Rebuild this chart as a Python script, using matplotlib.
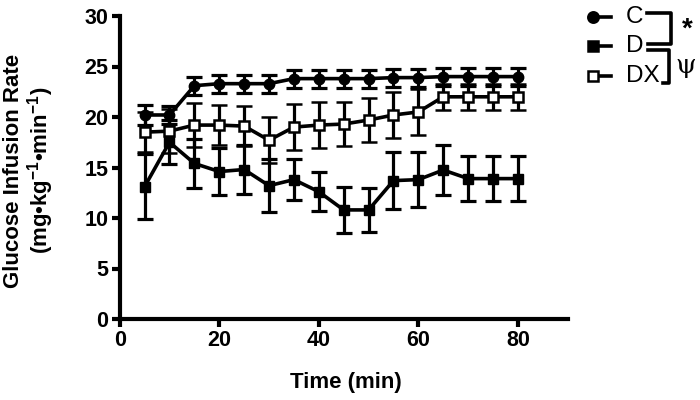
import numpy as np
import matplotlib.pyplot as plt
from matplotlib.lines import Line2D

plt.rcParams["font.family"] = ["Liberation Sans", "DejaVu Sans"]
plt.rcParams["mathtext.fontset"] = "custom"
plt.rcParams["mathtext.rm"] = "Liberation Sans:bold"
plt.rcParams["mathtext.it"] = "Liberation Sans:bold"
plt.rcParams["mathtext.bf"] = "Liberation Sans:bold"

# Glucose infusion rate during clamp, mean +/- SEM
time = [5, 10, 15, 20, 25, 30, 35, 40, 45, 50, 55, 60, 65, 70, 75, 80]
c_mean = [20.2, 20.2, 23.1, 23.3, 23.3, 23.3, 23.8, 23.8, 23.8, 23.8, 23.9, 23.9, 24.0, 24.0, 24.0, 24.0]
c_err = [1.0, 0.9, 0.9, 0.9, 0.9, 0.9, 0.9, 0.9, 0.9, 0.9, 0.9, 0.9, 0.9, 0.9, 0.9, 0.9]
d_mean = [13.1, 17.5, 15.4, 14.6, 14.8, 13.2, 13.8, 12.6, 10.8, 10.8, 13.7, 13.8, 14.75, 13.9, 13.9, 13.9]
d_err = [3.2, 2.2, 2.4, 2.3, 2.4, 2.6, 2.0, 1.95, 2.3, 2.2, 2.8, 2.7, 2.5, 2.2, 2.2, 2.2]
dx_mean = [18.5, 18.6, 19.2, 19.2, 19.1, 17.7, 19.0, 19.2, 19.3, 19.7, 20.2, 20.5, 22.0, 22.0, 22.0, 22.0]
dx_err = [2.0, 2.2, 2.2, 2.0, 2.0, 2.3, 2.3, 2.3, 2.2, 2.2, 2.3, 2.3, 1.3, 1.3, 1.3, 1.3]

fig = plt.figure(figsize=(7, 4), dpi=100)
ax = fig.add_axes([0.171, 0.2025, 0.64, 0.7575])

kw = dict(color="black", lw=2.6, elinewidth=2.3, capsize=5.5, capthick=2.3, ms=7.5)
ax.errorbar(time, d_mean, yerr=d_err, fmt="-s", mfc="black", zorder=3, **kw)
ax.errorbar(time, c_mean, yerr=c_err, fmt="-o", mfc="black", zorder=4, **kw)
ax.errorbar(time, dx_mean, yerr=dx_err, fmt="-s", mfc="white", mew=1.8, zorder=5, **kw)

ax.set_xlim(0, 90)
ax.set_ylim(0, 30)
ax.set_xticks([0, 20, 40, 60, 80])
ax.set_yticks([0, 5, 10, 15, 20, 25, 30])
for s in ["top", "right"]:
    ax.spines[s].set_visible(False)
for s in ["left", "bottom"]:
    ax.spines[s].set_linewidth(3)
ax.tick_params(width=3, length=6, labelsize=15.5, pad=2)
for lab in ax.get_xticklabels() + ax.get_yticklabels():
    lab.set_fontweight("bold")
ax.set_xlabel("Time (min)", fontsize=16, fontweight="bold")
ax.xaxis.set_label_coords(0.505, -0.175)
ax.set_ylabel("Glucose Infusion Rate\n(mg\u2022kg$^{-1}$\u2022min$^{-1}$)",
              fontsize=16, fontweight="bold", linespacing=1.05)
ax.yaxis.set_label_coords(-0.143, 0.49)

# manual legend with significance brackets (pixel coords -> figure fraction)
W, H = 700.0, 400.0
def fx(x):
    return x / W
def fy(y):
    return 1 - y / H

legend_rows = [("C", "o", "black", 17), ("D", "s", "black", 46), ("DX", "s", "white", 76)]
for name, mk, face, y in legend_rows:
    fig.add_artist(Line2D([fx(593), fx(611)], [fy(y), fy(y)], color="black", lw=2.6,
                          marker=mk, mfc=face, mec="black", mew=1.8, ms=7.5, markevery=[0]))
    fig.text(fx(626), fy(y), name, fontsize=17.5, va="center", ha="left")

bk = dict(color="black", lw=2.6)
# C vs D
fig.add_artist(Line2D([fx(647), fx(671), fx(671), fx(648)],
                      [fy(13), fy(13), fy(44), fy(44)], **bk))
# D vs DX
fig.add_artist(Line2D([fx(648), fx(669), fx(669), fx(663)],
                      [fy(50), fy(50), fy(83), fy(83)], **bk))
fig.text(fx(687), fy(30), "*", fontsize=20, fontweight="bold", ha="center", va="center")
fig.text(fx(686), fy(66), "\u03c8", fontsize=19, ha="center", va="center",
         family=["DejaVu Serif"])

fig.savefig("out.png", dpi=100)
